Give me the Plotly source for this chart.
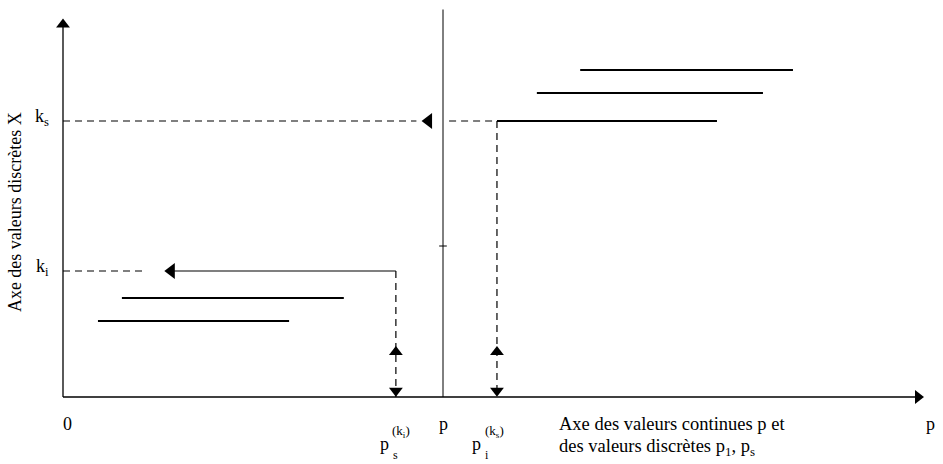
import plotly.graph_objects as go

# ---- data (abstract units: p along x, discrete value X along y) ----
p_value = 10.0
k_s = 11.04
k_i = 5.04
ps_ki = 8.76      # p_s^(k_i)
pi_ks = 11.42     # p_i^(k_s)
tick_y = 6.04

left_starts = [1.55, 0.92]
left_ends = [7.39, 5.95]
left_levels = [3.96, 3.04]

right_starts = [pi_ks, 12.47, 13.61]
right_ends = [17.21, 18.42, 19.21]
right_levels = [k_s, 12.16, 13.08]

x_axis_end = 22.5
y_axis_end = 14.9
p_line_top = 15.5

FONT = "Liberation Serif"
BLACK = "black"
DASH = "7px,5px"

fig = go.Figure()

def line(xs, ys, dash="solid", width=1.2):
    fig.add_trace(go.Scatter(x=xs, y=ys, mode="lines",
                             line=dict(color=BLACK, width=width, dash=dash),
                             hoverinfo="skip", showlegend=False))

def marker(x, y, symbol, size=13):
    fig.add_trace(go.Scatter(x=[x], y=[y], mode="markers",
                             marker=dict(symbol=symbol, size=size, color=BLACK,
                                         line=dict(width=0)),
                             hoverinfo="skip", showlegend=False))

# axes
line([0, 0], [0, y_axis_end], width=1.3)
line([0, x_axis_end], [0, 0], width=1.3)
marker(0, y_axis_end, "triangle-up", 12)
marker(x_axis_end, 0, "triangle-right", 12)

# vertical line at p and its tick
line([p_value, p_value], [0, p_line_top], width=1)
line([p_value - 0.1, p_value + 0.1], [tick_y, tick_y], width=1)

# intervals
for a, b, y in zip(left_starts, left_ends, left_levels):
    line([a, b], [y, y], width=1.8)
for a, b, y in zip(right_starts, right_ends, right_levels):
    line([a, b], [y, y], width=1.8)

# k_s construction
line([0, 9.3], [k_s, k_s], dash=DASH)
marker(9.62, k_s, "triangle-left", 14)
line([10.16, pi_ks], [k_s, k_s], dash=DASH)
line([pi_ks, pi_ks], [k_s, 0], dash=DASH)
marker(pi_ks, 1.8, "triangle-up", 12)
marker(pi_ks, 0.25, "triangle-down", 12)

# k_i construction
line([0, 2.15], [k_i, k_i], dash=DASH)
marker(2.85, k_i, "triangle-left", 14)
line([2.9, ps_ki], [k_i, k_i], width=1.2)
line([ps_ki, ps_ki], [k_i, 0], dash=DASH)
marker(ps_ki, 1.8, "triangle-up", 12)
marker(ps_ki, 0.25, "triangle-down", 12)

def txt(x, y, s, size=18, xanchor="left", yanchor="middle", angle=0):
    fig.add_annotation(x=x, y=y, text=s, showarrow=False, xanchor=xanchor,
                       yanchor=yanchor, textangle=angle,
                       font=dict(family=FONT, size=size, color=BLACK))

txt(0.13, -1.08, "0", xanchor="center")
txt(p_value, -1.08, "p", xanchor="center")
txt(22.84, -1.08, "p", xanchor="center")
txt(12.99, -1.08, "Axe des valeurs continues p et", size=18.5)
txt(12.99, -2.0, "des valeurs discrètes p<sub>1</sub>, p<sub>s</sub>", size=18.5)

# p_s^(k_i): stacked sub/superscript
txt(8.45, -1.88, "p", xanchor="center")
txt(8.62, -2.3, "s", size=12)
txt(8.6, -1.38, "(k<sub>i</sub>)", size=13)
# p_i^(k_s)
txt(10.89, -1.88, "p", xanchor="center")
txt(11.06, -2.3, "i", size=12)
txt(11.04, -1.38, "(k<sub>s</sub>)", size=13)

txt(-0.55, k_s + 0.15, "k<sub>s</sub>", xanchor="center")
txt(-0.55, k_i + 0.15, "k<sub>i</sub>", xanchor="center")
txt(-1.26, 7.4, "Axe des valeurs discrètes X", size=18, xanchor="center", angle=-90)

fig.update_layout(
    width=943, height=464,
    margin=dict(l=0, r=0, t=0, b=0),
    paper_bgcolor="white", plot_bgcolor="white",
    xaxis=dict(range=[-63 / 38, 880 / 38], visible=False, fixedrange=True),
    yaxis=dict(range=[-67 / 25, 397 / 25], visible=False, fixedrange=True),
    showlegend=False,
)

fig.write_html("out.html", config={"displayModeBar": False},
               post_script="document.body.style.margin='0';")
